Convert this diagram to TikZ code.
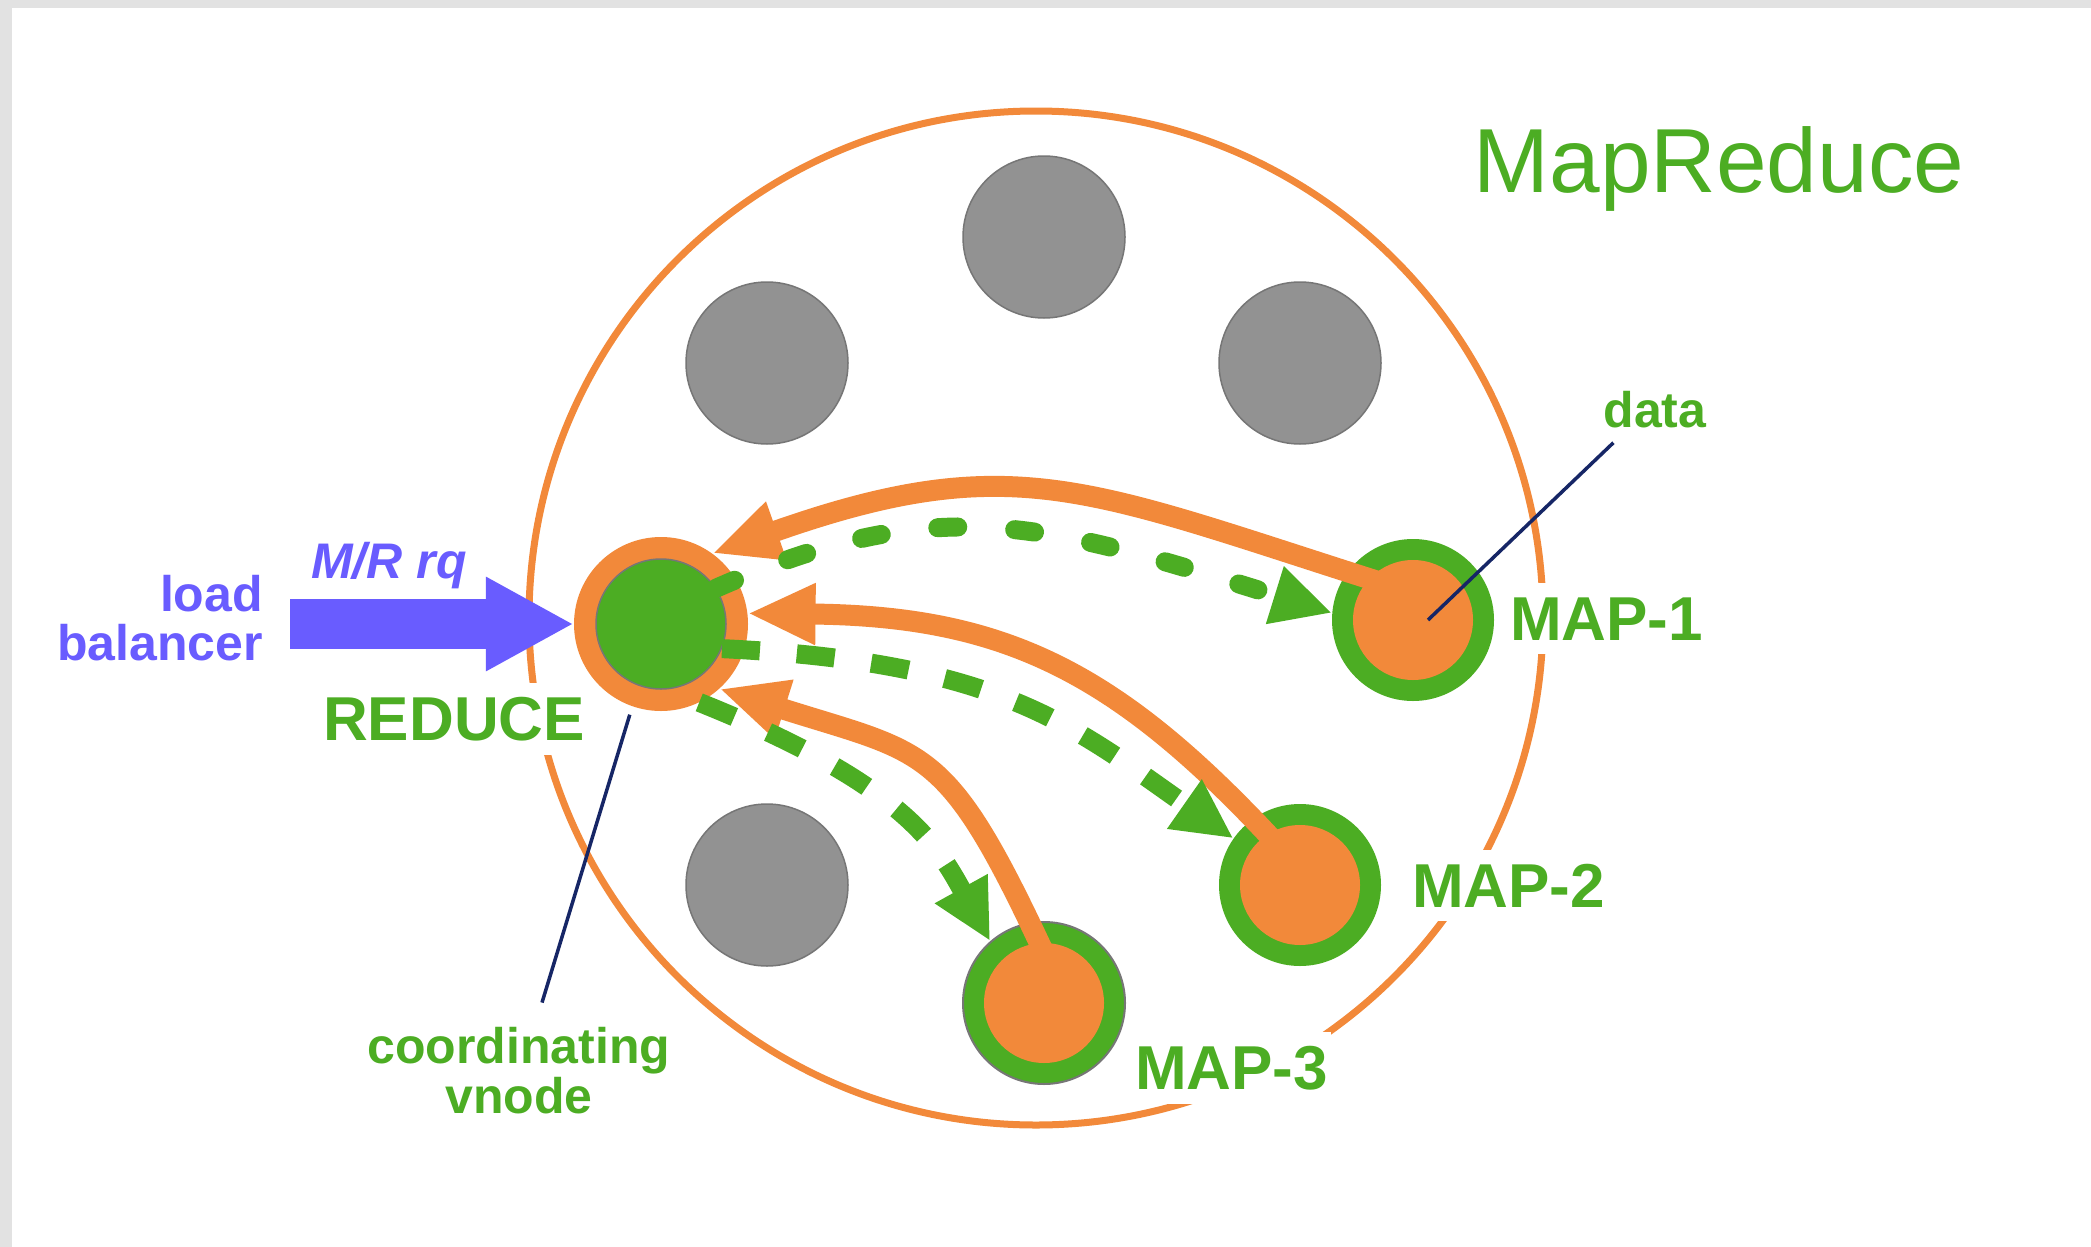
\documentclass[tikz,border=0pt]{standalone}
\usepackage{fontspec}
\setmainfont{Liberation Sans}
\usetikzlibrary{arrows.meta,calc}
\definecolor{cOrange}{RGB}{242,137,58}
\definecolor{cGreen}{RGB}{76,173,35}
\definecolor{cGray}{RGB}{146,146,146}
\definecolor{cGrayLine}{RGB}{118,118,118}
\definecolor{cBlue}{RGB}{105,92,255}
\definecolor{cNavy}{RGB}{22,38,102}
\definecolor{cFrame}{RGB}{226,226,226}
\begin{document}
\begin{tikzpicture}[x=1pt,y=-1pt,
  graynode/.style={circle,fill=cGray,draw=cGrayLine,line width=1.5pt,minimum size=162pt,inner sep=0pt},
  mapout/.style={circle,fill=cGreen,minimum size=162pt,inner sep=0pt},
  mapin/.style={circle,fill=cOrange,minimum size=120pt,inner sep=0pt},
  maplbl/.style={fill=white,text=cGreen,inner xsep=3pt,inner ysep=14pt,font=\fontsize{62}{62}\selectfont\bfseries},
  smalllbl/.style={inner sep=0pt,text=cGreen,font=\fontsize{50}{50}\selectfont\bfseries},
  bluelbl/.style={inner sep=0pt,text=cBlue,font=\fontsize{50}{50}\selectfont\bfseries},
  oarrow/.style={draw=cOrange,line width=21pt,-{Triangle[length=68pt,width=57pt]}},
  gdash/.style={draw=cGreen,line width=19pt,-{Triangle[length=60pt,width=56pt]}},
  navyline/.style={draw=cNavy,line width=3.5pt}
]
% background
\fill[cFrame] (0,0) rectangle (2091,1247);
\fill[white] (12,8) rectangle (2091,1247);
\useasboundingbox (0,0) rectangle (2091,1247);

% big ring
\node[circle,draw=cOrange,line width=7pt,minimum size=1014pt,inner sep=0pt] (ring) at (1036,618) {};

% labels that interrupt the ring
\node[maplbl,anchor=base west] (l1) at (1507,640) {MAP-1};
\node[maplbl,anchor=base west] (l2) at (1409,907) {MAP-2};
\node[maplbl,anchor=base west] (l3) at (1132,1089) {MAP-3};
\node[maplbl,anchor=base west] (lred) at (320,740) {REDUCE};

% title
\node[inner sep=0pt,text=cGreen,font=\fontsize{91}{91}\selectfont,anchor=base] (title) at (1719,192) {MapReduce};

% gray vnodes
\node[graynode] (g1) at (1044,237) {};
\node[graynode] (g2) at (767,363) {};
\node[graynode] (g3) at (1300,363) {};
\node[graynode] (g4) at (767,885) {};

% reduce node
\node[circle,fill=cOrange,minimum size=174pt,inner sep=0pt] (red) at (661,624) {};
\node[circle,fill=cGreen,draw=cGrayLine,line width=1.5pt,minimum size=130pt,inner sep=0pt] (rin) at (661,624) {};

% map nodes
\node[mapout] (m1) at (1413,620) {};
\node[mapin] (m1in) at (1413,620) {};
\node[mapout] (m2) at (1300,885) {};
\node[mapin] (m2in) at (1300,885) {};
\node[mapout,draw=cGrayLine,line width=2pt] (m3) at (1044,1003) {};
\node[mapin] (m3in) at (1044,1003) {};

% load balancer arrow
\node[bluelbl,anchor=base east] (lb1) at (263,611) {load};
\node[bluelbl,anchor=base east] (lb2) at (263,660) {balancer};
\node[bluelbl,anchor=base,font=\fontsize{50}{50}\selectfont\bfseries\itshape] (mrq) at (389,578) {M/R rq};
\coordinate (lbtail) at (290,624);
\draw[cBlue,line width=50pt,-{Triangle[length=88pt,width=88pt]}] (lbtail) -- (red.west);

% orange result arrows
\draw[oarrow] ($(m1in.center)!0.75!(m1in.127)$) .. controls (1089,490) and (1014,447) .. (red.54);
\draw[oarrow] ($(m2in.center)!0.75!(m2in.119)$) .. controls (1118,672) and (1005,616) .. (red.7);
\draw[oarrow] ($(m3in.center)!0.75!(m3in.87)$) .. controls (946,742) and (928,755) .. (red.-48);

% green dashed request arrows
\draw[gdash,line cap=round,dash pattern=on 20pt off 57pt] (rin.33) .. controls (941,489) and (1046,524) .. (m1.175);
\draw[gdash,dash pattern=on 38pt off 37pt] (rin.-22) .. controls (1001,662) and (1073,726) .. (m2.145);
\draw[gdash,dash pattern=on 38pt off 37pt] (red.-64) .. controls (903.6,784.4) and (937,845) .. (m3.131);

% annotations
\node[smalllbl,anchor=base] (data) at (1655,427) {data};
\draw[navyline] ([shift={(10,15)}]data.south west) -- ([xshift=15pt]m1in.center);
\node[smalllbl,anchor=base] (cv1) at (519,1063) {coordinating};
\node[smalllbl,anchor=base] (cv2) at (519,1113) {vnode};
\draw[navyline] ($(red.center)!1.1!(red.-109)$) -- ([shift={(23,-24)}]cv1.north);
\end{tikzpicture}
\end{document}
